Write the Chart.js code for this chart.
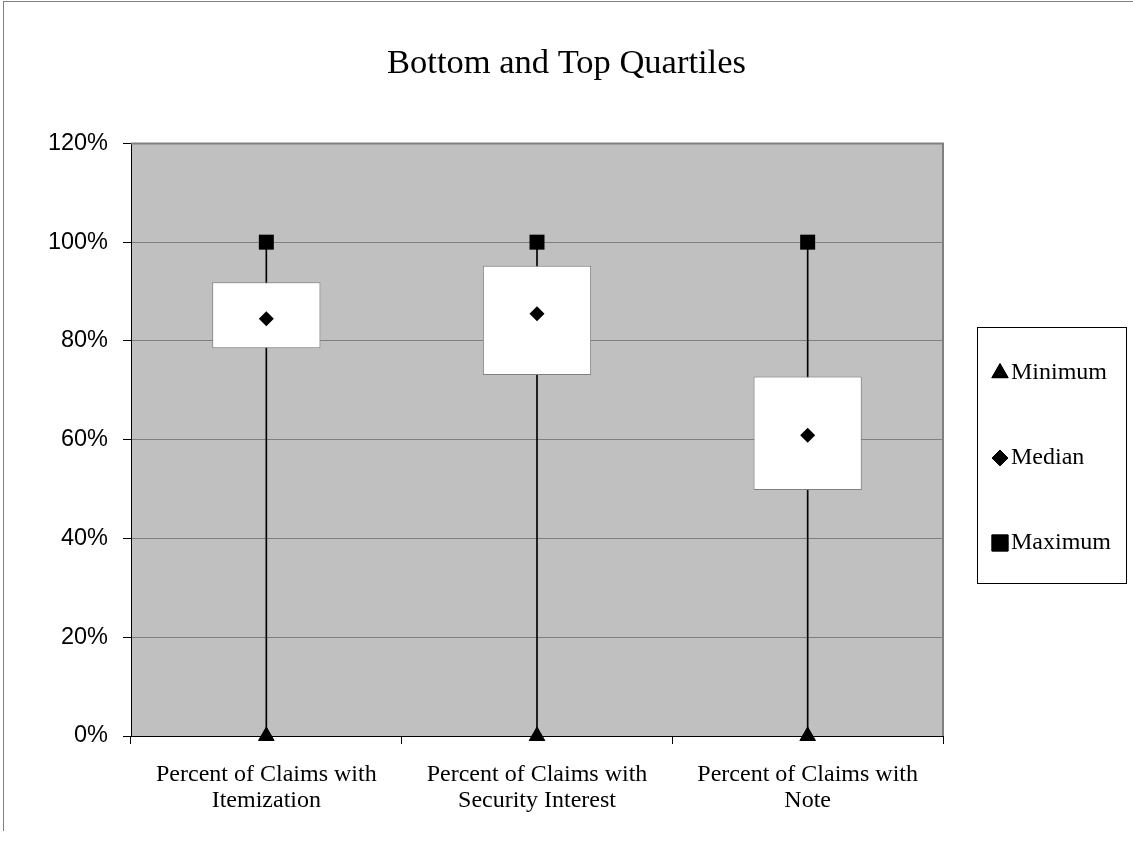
<!DOCTYPE html>
<html><head><meta charset="utf-8">
<script src="https://cdn.jsdelivr.net/npm/chart.js@4.4.1/dist/chart.umd.min.js"></script>
<style>
html,body{margin:0;padding:0;background:#fff;}
#wrap{position:relative;width:1133px;height:843px;overflow:hidden;}
#frame{position:absolute;left:3px;top:1px;width:1140px;height:829px;border-left:1px solid #808080;border-top:1px solid #808080;pointer-events:none;}
canvas{position:absolute;left:0;top:0;}
</style></head><body>
<div id="wrap"><canvas id="c" width="1133" height="843"></canvas><div id="frame"></div></div>
<script>
// ---- data ----
const categories = [['Percent of Claims with','Itemization'],['Percent of Claims with','Security Interest'],['Percent of Claims with','Note']];
const minimum = [0, 0, 0];
const bottomQuartile = [78.5, 73.1, 49.8];
const median = [84.5, 85.5, 60.9];
const topQuartile = [91.9, 95.2, 72.8];
const maximum = [100, 100, 100];
const yTickValues = [0, 20, 40, 60, 80, 100, 120];
const seriesNames = ['Minimum', 'Median', 'Maximum'];

const SERIF = "'Liberation Serif','Times New Roman',serif";
const SANS = "'Liberation Sans',Arial,sans-serif";

const plotBg = {
  id: 'plotBg',
  beforeDraw(chart) {
    const {ctx, chartArea: a} = chart;
    ctx.save();
    ctx.fillStyle = '#C0C0C0';
    ctx.fillRect(a.left, a.top, a.right - a.left, a.bottom - a.top);
    ctx.restore();
  },
  afterDatasetsDraw(chart) {
    const {ctx, chartArea: a} = chart;
    ctx.save();
    ctx.strokeStyle = '#808080';
    ctx.lineWidth = 2;
    ctx.beginPath();
    ctx.moveTo(a.left, a.top);
    ctx.lineTo(a.right, a.top);
    ctx.lineTo(a.right, a.bottom);
    ctx.stroke();
    ctx.restore();
  }
};

const boxLegend = {
  id: 'boxLegend',
  afterDraw(chart, args, opts) {
    const {ctx} = chart;
    ctx.save();
    ctx.strokeStyle = '#000';
    ctx.lineWidth = 1;
    ctx.fillStyle = '#fff';
    ctx.fillRect(opts.left, opts.top, opts.width, opts.height);
    ctx.strokeRect(opts.left + 0.5, opts.top + 0.5, opts.width, opts.height);
    const items = chart.data.datasets.filter(d => d.inLegend);
    items.forEach((ds, i) => {
      const y = opts.firstY + i * opts.step;
      ctx.fillStyle = '#000';
      ctx.strokeStyle = '#000';
      Chart.helpers.drawPoint(ctx, {pointStyle: ds.pointStyle, radius: ds.legendRadius, rotation: 0, borderWidth: 1}, opts.markerX, y);
      ctx.fill();
      ctx.font = opts.font;
      ctx.textBaseline = 'middle';
      ctx.textAlign = 'left';
      ctx.fillStyle = '#000';
      ctx.fillText(ds.label, opts.textX, y);
    });
    ctx.restore();
  }
};

const whiskers = categories.map((c, i) => [minimum[i], maximum[i]]);
const boxes = categories.map((c, i) => [bottomQuartile[i], topQuartile[i]]);

new Chart(document.getElementById('c'), {
  data: {
    labels: categories,
    datasets: [
      {type: 'bar', label: 'range', data: whiskers, backgroundColor: '#000', borderWidth: 0, barThickness: 1, grouped: false, order: 3},
      {type: 'bar', label: 'quartiles', data: boxes, backgroundColor: '#fff', borderColor: '#808080', borderWidth: 1, borderSkipped: false, categoryPercentage: 1, barPercentage: 0.4, grouped: false, order: 2},
      {type: 'line', label: seriesNames[0], data: minimum, showLine: false, clip: false, pointStyle: 'triangle', pointRadius: 9, pointBackgroundColor: '#000', pointBorderColor: '#000', pointBorderWidth: 1, inLegend: true, legendRadius: 9.5, order: 0},
      {type: 'line', label: seriesNames[1], data: median, showLine: false, clip: false, pointStyle: 'rectRot', pointRadius: 7.5, pointBackgroundColor: '#000', pointBorderColor: '#000', pointBorderWidth: 0, inLegend: true, legendRadius: 8, order: 0},
      {type: 'line', label: seriesNames[2], data: maximum, showLine: false, clip: false, pointStyle: 'rect', pointRadius: 10.6, pointBackgroundColor: '#000', pointBorderColor: '#000', pointBorderWidth: 0, inLegend: true, legendRadius: 11.5, order: 0}
    ]
  },
  options: {
    responsive: false,
    animation: false,
    devicePixelRatio: 1,
    layout: {padding: {left: 0, right: 0, top: 0, bottom: 0}},
    plugins: {
      legend: {display: false},
      tooltip: {enabled: false},
      title: {display: true, text: 'Bottom and Top Quartiles', color: '#000', font: {family: SERIF, size: 34.5, weight: 'normal', lineHeight: 1.2}, padding: {top: 43, bottom: 59}},
      boxLegend: {left: 977, top: 327, width: 149, height: 256, markerX: 1000, textX: 1011, firstY: 373, step: 85, font: '24px ' + SERIF}
    },
    scales: {
      x: {
        type: 'category',
        offset: true,
        grid: {offset: true, drawOnChartArea: false, drawTicks: true, tickLength: 8, tickColor: '#000'},
        border: {display: true, color: '#000', width: 1},
        ticks: {color: '#000', font: {family: SERIF, size: 24, lineHeight: 1.083}, padding: 18, maxRotation: 0, autoSkip: false},
        afterFit(scale) { scale.height = 107; }
      },
      y: {
        type: 'linear',
        min: 0, max: 120,
        afterBuildTicks(scale) { scale.ticks = yTickValues.map(v => ({value: v})); },
        grid: {color: '#808080', lineWidth: 1, drawTicks: true, tickLength: 8, tickColor: '#000'},
        border: {display: true, color: '#000', width: 1},
        ticks: {color: '#000', font: {family: SANS, size: 23.5}, padding: 15, callback: v => v + '%'},
        afterFit(scale) { scale.width = 131; }
      },
      legendSpace: {
        type: 'linear',
        position: 'right',
        display: true,
        grid: {display: false, drawOnChartArea: false},
        border: {display: false},
        ticks: {display: false},
        afterFit(scale) { scale.width = 190; }
      }
    }
  },
  plugins: [plotBg, boxLegend]
});
</script>
</body></html>
